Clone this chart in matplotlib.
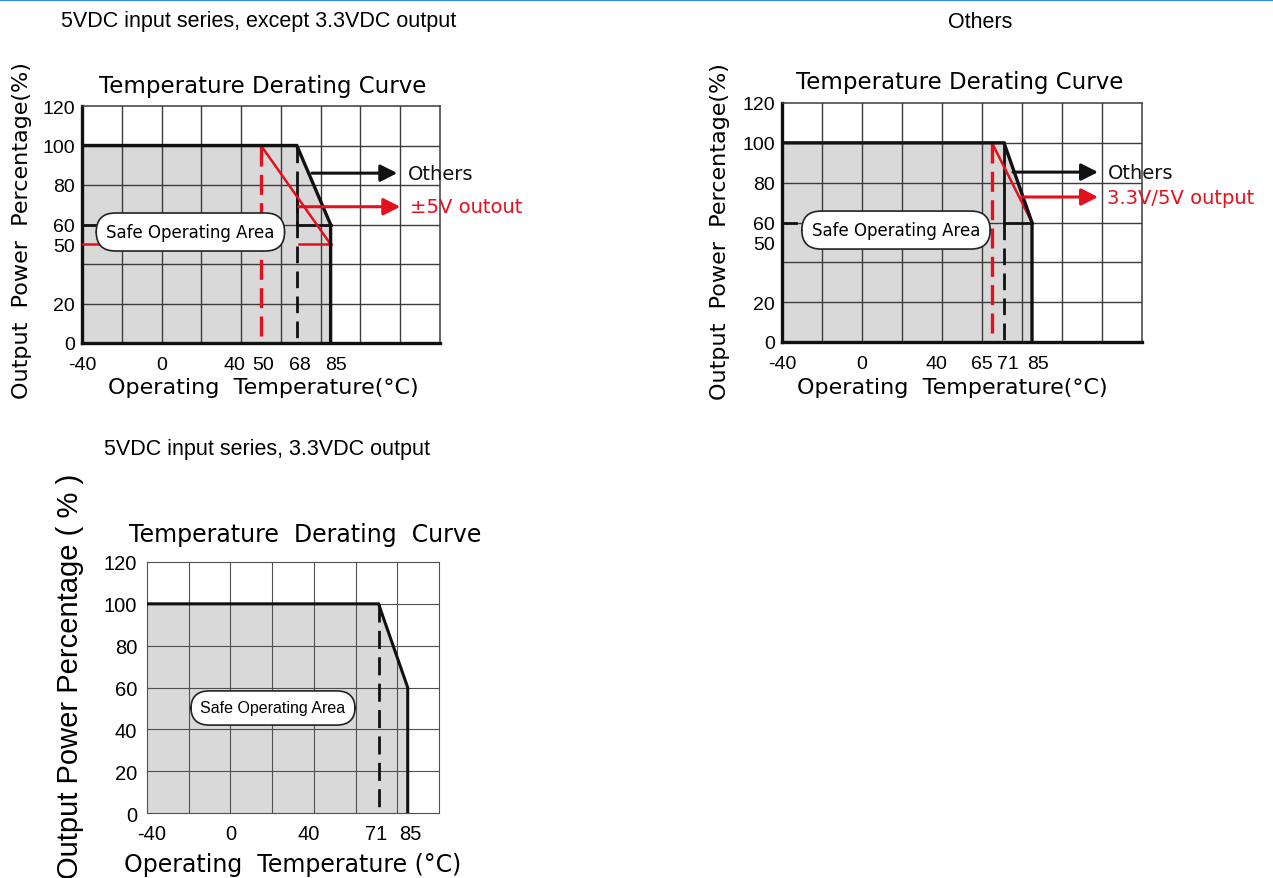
import numpy as np
import matplotlib
matplotlib.use("Agg")
import matplotlib.pyplot as plt
from matplotlib import font_manager as fm
from matplotlib.patches import Rectangle

# ---------------- data ----------------
# Chart 1: 5VDC input series, except 3.3VDC output
c1_temp = [-40, 68, 85, 85]
c1_power = [100, 100, 60, 0]
c1_red_temp = [50, 85]
c1_red_power = [100, 50]
c1_knee = 68
c1_red_knee = 50
c1_xticks = [-40, 0, 40, 50, 68, 85]
c1_yticks = [0, 20, 50, 60, 80, 100, 120]

# Chart 2: Others
c2_temp = [-40, 71, 85, 85]
c2_power = [100, 100, 60, 0]
c2_red_temp = [65, 85]
c2_red_power = [100, 60]
c2_knee = 71
c2_red_knee = 65
c2_xticks = [-40, 0, 40, 65, 71, 85]
c2_yticks = [0, 20, 50, 60, 80, 100, 120]

# Chart 3: 5VDC input series, 3.3VDC output
c3_temp = [-40, 71, 85, 85]
c3_power = [100, 100, 60, 0]
c3_knee = 71
c3_xticks = [-40, 0, 40, 71, 85]
c3_yticks = [0, 20, 40, 60, 80, 100, 120]

# ---------------- style ----------------
W, H = 1273, 879
RED = "#e3101e"
FILL = "#d9d9d9"


def has_font(name):
    try:
        fm.findfont(fm.FontProperties(family=name), fallback_to_default=False)
        return True
    except Exception:
        return False


SANS = "DejaVu Sans"
ARIAL = "Liberation Sans" if has_font("Liberation Sans") else "DejaVu Sans"

plt.rcParams["font.family"] = [SANS]

fig = plt.figure(figsize=(W / 100, H / 100), dpi=100)
fig.patch.set_facecolor("white")
fig.add_artist(Rectangle((0, 1 - 2.2 / H), 1, 2.2 / H, transform=fig.transFigure,
                         color="#2a8fd6", lw=0))


def fx(x):
    return x / W


def fy(y):
    return 1 - y / H


def make_axes(left, top, right, bottom):
    return fig.add_axes([fx(left), fy(bottom), (right - left) / W, (bottom - top) / H])


def base(ax, xmax, yticks, grid_color, grid_lw, tick_font, tick_size, ypad):
    ax.set_xlim(-40, xmax)
    ax.set_ylim(0, 120)
    ax.set_xticks([])
    ax.set_yticks(yticks)
    ax.set_yticklabels([str(v) for v in yticks], family=tick_font, fontsize=tick_size)
    ax.tick_params(which="both", length=0)
    ax.tick_params(axis="y", pad=ypad)
    for gx in np.arange(-20, xmax, 20):
        ax.axvline(gx, color=grid_color, lw=grid_lw, zorder=2)
    for gy in np.arange(20, 120, 20):
        ax.axhline(gy, color=grid_color, lw=grid_lw, zorder=2)


def xlabels(ax, vals, shifts_px, below_px, font, size):
    for v, s in zip(vals, shifts_px):
        ax.annotate(str(v), xy=(v, 0), xycoords=("data", "axes fraction"),
                    xytext=(s * 0.72, -below_px * 0.72), textcoords="offset points",
                    ha="center", va="center", family=font, fontsize=size)


def arrow(ax, x0, x1, y, color):
    ax.annotate("", xy=(x1, y), xytext=(x0, y),
                arrowprops=dict(arrowstyle="-|>,head_length=0.75,head_width=0.38",
                                color=color, lw=2.2, shrinkA=0, shrinkB=0,
                                mutation_scale=13.5), zorder=6)


def safe_label(ax, x, y, font, size, pad):
    ax.text(x, y, "Safe Operating Area", ha="center", va="center", family=font,
            fontsize=size, zorder=8,
            bbox=dict(boxstyle="round,pad=%s,rounding_size=1.15" % pad,
                      fc="white", ec="#222222", lw=1.2))


# ================= Chart 1 =================
ax1 = make_axes(82, 107, 440, 344)
base(ax1, 140, c1_yticks, "#3c3c3c", 1.0, ARIAL, 14, 5)
ax1.fill_between(c1_temp, 0, c1_power, color=FILL, lw=0, zorder=1)
for s in ["top", "right"]:
    ax1.spines[s].set_color("#3c3c3c")
    ax1.spines[s].set_linewidth(1.1)
for s in ["left", "bottom"]:
    ax1.spines[s].set_color("#111111")
    ax1.spines[s].set_linewidth(2.4)
# auxiliary step at 60% and 50%
ax1.plot([-40, -30], [60, 60], color="#111111", lw=2.0, zorder=3)
ax1.plot([c1_knee, c1_temp[2]], [60, 60], color="#111111", lw=2.0, zorder=3)
ax1.plot([c1_knee, c1_knee], [78, 60], color="#111111", lw=2.0, zorder=3)
ax1.plot([c1_knee, c1_knee], [100, 0], color="#111111", lw=2.0, dashes=(6, 3), zorder=3)
ax1.plot([-40, -30], [50, 50], color=RED, lw=1.8, zorder=4)
ax1.plot([69, c1_red_temp[1]], [50, 50], color=RED, lw=1.8, zorder=4)
ax1.plot([c1_red_knee, c1_red_knee], [100, 0], color=RED, lw=2.4, dashes=(6, 2.5), zorder=4)
ax1.plot(c1_red_temp, c1_red_power, color=RED, lw=1.8, zorder=4)
ax1.plot(c1_temp, c1_power, color="#111111", lw=2.4, zorder=5, solid_joinstyle="miter")
arrow(ax1, 75.6, 118.5, 86, "#111111")
arrow(ax1, 69, 120, 69, RED)
ax1.text(123.9, 86, "Others", ha="left", va="center", fontsize=14, color="#111111")
ax1.text(125, 69, "±5V outout", ha="left", va="center", fontsize=14, color=RED)
safe_label(ax1, 14.5, 56.2, SANS, 12, 0.6)
xlabels(ax1, c1_xticks, [0, 0, -7, 2, 3, 5], 22, ARIAL, 14)
fig.text(fx(259), fy(21), "5VDC input series, except 3.3VDC output", ha="center",
         va="center", family=ARIAL, fontsize=15.5)
fig.text(fx(263), fy(87), "Temperature Derating Curve", ha="center", va="center",
         fontsize=16.5)
fig.text(fx(22), fy(231), "Output  Power  Percentage(%)", ha="center", va="center",
         rotation=90, fontsize=16)
fig.text(fx(263), fy(388), "Operating  Temperature(°C)", ha="center", va="center",
         fontsize=16)

# ================= Chart 2 =================
ax2 = make_axes(782, 104, 1142, 343)
base(ax2, 140, c2_yticks, "#3c3c3c", 1.0, ARIAL, 14, 5)
ax2.fill_between(c2_temp, 0, c2_power, color=FILL, lw=0, zorder=1)
for s in ["top", "right"]:
    ax2.spines[s].set_color("#3c3c3c")
    ax2.spines[s].set_linewidth(1.1)
for s in ["left", "bottom"]:
    ax2.spines[s].set_color("#111111")
    ax2.spines[s].set_linewidth(2.4)
ax2.plot([-40, -33], [60, 60], color="#111111", lw=2.0, zorder=3)
ax2.plot([c2_knee, c2_temp[2]], [60, 60], color="#111111", lw=2.0, zorder=3)
ax2.plot([c2_knee, c2_knee], [100, 60], color="#111111", lw=2.0, zorder=3)
ax2.plot([c2_knee, c2_knee], [60, 0], color="#111111", lw=2.0, dashes=(6, 3), zorder=3)
ax2.plot([c2_red_knee, c2_red_knee], [100, 0], color=RED, lw=2.4, dashes=(6, 2.5), zorder=4)
ax2.plot(c2_red_temp, c2_red_power, color=RED, lw=1.8, zorder=4)
ax2.plot(c2_temp, c2_power, color="#111111", lw=2.4, zorder=5, solid_joinstyle="miter")
arrow(ax2, 75.5, 118, 85.3, "#111111")
arrow(ax2, 80, 118, 72.8, RED)
ax2.text(123, 85.3, "Others", ha="left", va="center", fontsize=14, color="#111111")
ax2.text(122.5, 72.8, "3.3V/5V output", ha="left", va="center", fontsize=14, color=RED)
safe_label(ax2, 17, 56.2, SANS, 12, 0.6)
xlabels(ax2, c2_xticks, [0, 0, -6, -10, 4, 6], 22, ARIAL, 14)
fig.text(fx(980), fy(22), "Others", ha="center", va="center", family=ARIAL, fontsize=15.5)
fig.text(fx(960), fy(82), "Temperature Derating Curve", ha="center", va="center",
         fontsize=16.5)
fig.text(fx(720), fy(232), "Output  Power  Percentage(%)", ha="center", va="center",
         rotation=90, fontsize=16)
fig.text(fx(952), fy(388), "Operating  Temperature(°C)", ha="center", va="center",
         fontsize=16)

# ================= Chart 3 =================
ax3 = make_axes(147, 563, 439, 814)
base(ax3, 100, c3_yticks, "#505050", 0.8, ARIAL, 14.5, 7)
ax3.fill_between(c3_temp, 0, c3_power, color=FILL, lw=0, zorder=1)
for s in ax3.spines.values():
    s.set_color("#505050")
    s.set_linewidth(0.8)
ax3.plot([c3_knee, c3_knee], [100, 0], color="#111111", lw=2.0, dashes=(6.5, 3), zorder=3)
ax3.plot(c3_temp, c3_power, color="#111111", lw=2.2, zorder=5, solid_joinstyle="miter")
safe_label(ax3, 20.4, 50.2, ARIAL, 11.5, 0.6)
xlabels(ax3, c3_xticks, [5, 0, -5, -2, 3], 21, ARIAL, 14.5)
fig.text(fx(267), fy(450), "5VDC input series, 3.3VDC output", ha="center",
         va="center", family=ARIAL, fontsize=15.5)
fig.text(fx(305), fy(535), "Temperature  Derating  Curve", ha="center", va="center",
         fontsize=17)
fig.text(fx(70), fy(676), "Output Power Percentage ( % )", ha="center", va="center",
         rotation=90, family=ARIAL, fontsize=21)
fig.text(fx(293), fy(865), "Operating  Temperature (°C)", ha="center", va="center",
         fontsize=17)

fig.savefig("out.png", dpi=100, facecolor="white")
